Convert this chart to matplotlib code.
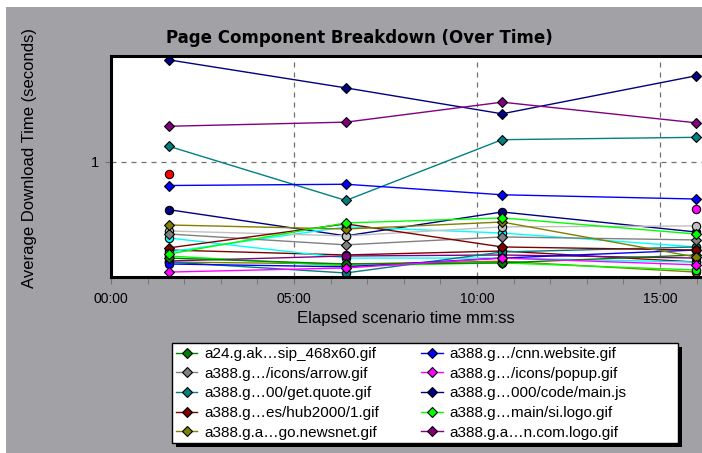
import numpy as np
import matplotlib
matplotlib.use("Agg")
import matplotlib.pyplot as plt
from matplotlib.patches import Rectangle
from matplotlib.ticker import FixedLocator, FuncFormatter

plt.rcParams['font.family'] = ['Liberation Sans', 'DejaVu Sans']

# elapsed time of the samples (seconds)
t = [95, 385, 641, 959]

# series shown in the legend (average download time, seconds)
names = ["a24.g.ak…sip_468x60.gif", "a388.g…/icons/arrow.gif",
         "a388.g…00/get.quote.gif", "a388.g…es/hub2000/1.gif",
         "a388.g.a…go.newsnet.gif", "a388.g…/cnn.website.gif",
         "a388.g…/icons/popup.gif", "a388.g…000/code/main.js",
         "a388.g…main/si.logo.gif", "a388.g.a…n.com.logo.gif"]
colors = ["#008000", "#808080", "#008080", "#800000", "#808000",
          "#0000ff", "#ff00ff", "#000080", "#00ff00", "#800080"]
sip_468x60 = [0.382, 0.360, 0.364, 0.394]
arrow = [0.486, 0.436, 0.472, 0.458]
get_quote = [1.17, 0.68, 1.25, 1.28]
hub2000 = [0.423, 0.538, 0.427, 0.414]
newsnet = [0.532, 0.511, 0.548, 0.386]
cnn_website = [0.79, 0.80, 0.72, 0.69]
popup = [0.332, 0.346, 0.382, 0.357]
main_js = [2.78, 2.10, 1.62, 2.37]
si_logo = [0.398, 0.543, 0.571, 0.486]
com_logo = [1.43, 1.49, 1.82, 1.48]
legend_values = [sip_468x60, arrow, get_quote, hub2000, newsnet,
                 cnn_website, popup, main_js, si_logo, com_logo]

# other components drawn in the graph but not listed in the legend
extra_colors = ["#ff0000", "#000080", "#808000", "#00ff00", "#800000",
                "#00ffff", "#00ffff", "#c0c0c0", "#800080", "#ff00ff",
                "#008080", "#0000ff"]
extra_values = [[0.89, np.nan, np.nan, np.nan],
                [0.62, 0.477, 0.606, 0.496],
                [0.367, 0.360, 0.370, 0.332],
                [0.390, 0.353, 0.364, 0.339],
                [0.414, 0.394, 0.410, 0.367],
                [0.467, 0.382, 0.382, 0.367],
                [0.406, 0.522, 0.491, 0.427],
                [0.501, 0.477, 0.522, 0.527],
                [0.371, 0.390, 0.394, 0.382],
                [np.nan, np.nan, np.nan, 0.625],
                [0.367, 0.329, 0.406, 0.427],
                [0.360, 0.350, 0.382, 0.414]]

W, H = 702, 453
fig = plt.figure(figsize=(W / 100, H / 100), dpi=100, facecolor="white")
fig.patches.append(Rectangle((6 / W, 0), 1, 1 - 7 / H, transform=fig.transFigure,
                             facecolor="#a2a2a6", edgecolor="none", zorder=-10))

ax = fig.add_axes([111 / W, 176 / H, 593 / W, 221 / H])
ax.set_facecolor("white")

for c, v in zip(extra_colors, extra_values):
    ax.plot(t, v, color=c, lw=1.0, marker="o", ms=6, mec="black", mew=0.8,
            label="_nolegend_")
handles = []
for n, c, v in zip(names, colors, legend_values):
    h, = ax.plot(t, v, color=c, lw=1.0, marker="D", ms=5.5, mec="black", mew=0.8,
                 label=n)
    handles.append(h)

ax.set_yscale("log")
ax.set_ylim(0.316, 2.89)
ax.set_xlim(0, 972)
ax.yaxis.set_major_locator(FixedLocator([1]))
ax.yaxis.set_minor_locator(FixedLocator([]))
ax.yaxis.set_major_formatter(FuncFormatter(lambda v, p: "1"))
ax.xaxis.set_major_locator(FixedLocator([0, 300, 600, 900]))
ax.xaxis.set_minor_locator(FixedLocator(list(range(60, 972, 60))))
ax.xaxis.set_major_formatter(FuncFormatter(lambda v, p: "%02d:%02d" % (v // 60, v % 60)))
ax.tick_params(axis="x", which="both", length=5, color="#707070", labelsize=10, pad=6)
ax.tick_params(axis="y", length=4, color="#707070", labelsize=10.5, pad=5)
ax.grid(True, which="major", color="#707070", linestyle=(0, (4, 4)), lw=0.9)
for s in ax.spines.values():
    s.set_linewidth(2.2)
    s.set_color("black")

fig.text(359 / W, 1 - 38 / H, "Page Component Breakdown (Over Time)",
         ha="center", va="center", fontsize=12, fontweight="bold", family="DejaVu Sans")
fig.text(30 / W, 1 - 158 / H, "Average Download Time (seconds)", rotation=90,
         ha="center", va="center", fontsize=12)
fig.text(406 / W, 1 - 319 / H, "Elapsed scenario time mm:ss",
         ha="center", va="center", fontsize=12)

# legend box with black drop shadow
fig.patches.append(Rectangle((176 / W, 1 - 447 / H), 506 / W, 100 / H,
                             transform=fig.transFigure, facecolor="black",
                             edgecolor="none", zorder=1))
fig.patches.append(Rectangle((172 / W, 1 - 443 / H), 506 / W, 100 / H,
                             transform=fig.transFigure, facecolor="white",
                             edgecolor="black", lw=1.0, zorder=2))
leg = fig.legend(handles, names, loc="upper left", bbox_to_anchor=(176 / W, 1 - 347 / H),
                 ncol=2, fontsize=11, frameon=False, labelspacing=0.37,
                 handlelength=1.4, handletextpad=0.45, columnspacing=2.75,
                 borderpad=0.0, borderaxespad=0.0)
leg.set_zorder(5)

fig.savefig("out.png", dpi=100, facecolor=fig.get_facecolor())
